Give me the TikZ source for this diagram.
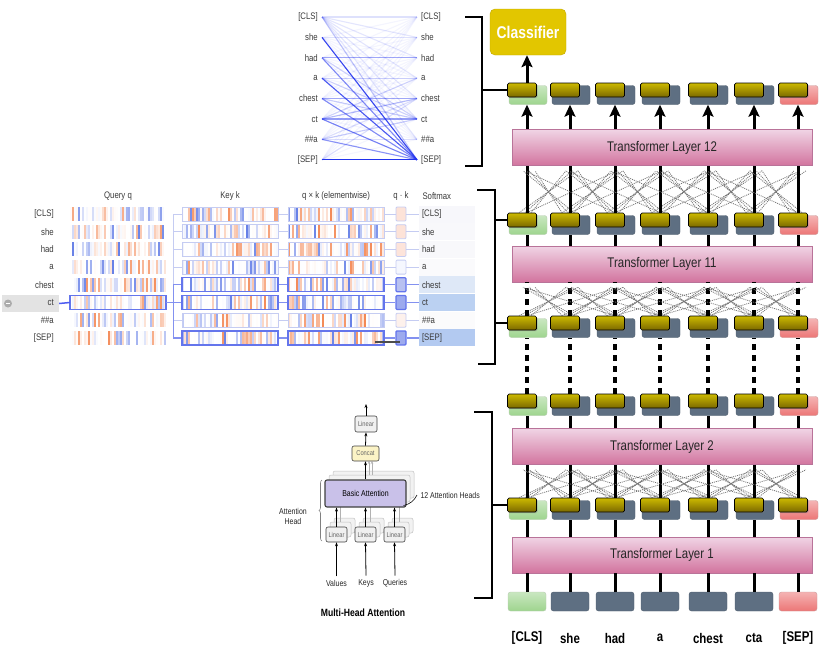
\documentclass[tikz,border=0pt]{standalone}
\usepackage{fontspec}
\setmainfont{Liberation Sans}
\newfontfamily\narrowfont[FakeStretch=0.82]{Liberation Sans}
\usetikzlibrary{positioning,arrows.meta,shadows,decorations.pathreplacing}

% colours
\definecolor{embtop}{HTML}{CDBA00}
\definecolor{embbot}{HTML}{7A6800}
\definecolor{slate}{HTML}{5E6F82}
\definecolor{clsgreen}{HTML}{9ED48E}
\definecolor{sepred}{HTML}{EC7676}
\definecolor{layertop}{HTML}{F0D4E5}
\definecolor{layerbot}{HTML}{D2749E}
\definecolor{layeredge}{HTML}{B97399}
\definecolor{gold}{HTML}{E2C600}
\definecolor{attblue}{HTML}{2233EE}
\definecolor{stripeblue}{HTML}{3F5FE0}
\definecolor{stripeorange}{HTML}{F06A2A}
\definecolor{barframe}{HTML}{C5CCF2}
\definecolor{barhot}{HTML}{6475EC}
\definecolor{lavender}{HTML}{C9C1E9}
\definecolor{paleyellow}{HTML}{FBF3C6}
\definecolor{txtgray}{HTML}{3A3A3A}

% a bar of coloured stripes: left x, centre y, seed
\newcommand\stripebar[3]{%
  \pgfmathsetseed{#3}%
  \foreach \kk in {0,...,47}{%
    \pgfmathsetmacro\stv{rnd*2-1}%
    \pgfmathsetmacro\sto{min(1,0.8*abs(\stv)^3)}%
    \pgfmathtruncatemacro\stp{\stv>0 ? 1 : 0}%
    \ifnum\stp=1 \def\stc{stripeorange}\else\def\stc{stripeblue}\fi
    \fill[\stc, fill opacity=\sto] ({#1+2*\kk},{#2-7}) rectangle ++(2,14);
  }%
}

\begin{document}
\begin{tikzpicture}[x=1pt,y=-1pt,
  layerbox/.style={draw=layeredge, line width=0.6pt, top color=layertop, bottom color=layerbot,
    minimum width=300pt, minimum height=36pt, inner sep=0pt,
    font=\narrowfont\fontsize{14}{16}\selectfont, text=black!85},
  tokbox/.style={rounded corners=2.5pt, minimum width=38pt, minimum height=19pt, inner sep=0pt},
  clsbox/.style={tokbox, draw=clsgreen!70!black!50, top color=clsgreen!55, bottom color=clsgreen},
  wordbox/.style={tokbox, draw=slate!85!black, fill=slate},
  sepbox/.style={tokbox, draw=sepred!70!black!60, top color=sepred!55, bottom color=sepred},
  embbox/.style={draw=black, line width=0.7pt, rounded corners=1.5pt, top color=embtop, bottom color=embbot,
    minimum width=29pt, minimum height=14pt, inner sep=0pt,
    drop shadow={shadow xshift=1pt, shadow yshift=-1pt, opacity=.4}},
  classbox/.style={draw=gold!85!black, fill=gold, rounded corners=5pt, minimum width=76pt,
    minimum height=46pt, inner sep=0pt, text=white, font=\narrowfont\bfseries\fontsize{17}{18}\selectfont},
  toklbl/.style={font=\narrowfont\bfseries\fontsize{14}{16}\selectfont},
  colline/.style={line width=3pt},
  dashline/.style={line width=3.5pt, dash pattern=on 6pt off 5pt},
  crossline/.style={black!55, line width=0.8pt, dash pattern=on 1pt off 1pt},
  bigarrow/.style={line width=3pt, -{Stealth[length=12pt,width=11pt,inset=2.5pt]}},
  brk/.style={line width=1.5pt},
  attlbl/.style={font=\narrowfont\fontsize{9.5}{11}\selectfont, text=txtgray, inner xsep=4pt, inner ysep=1pt},
  attline/.style={attblue, line width=1.1pt},
  rowlbl/.style={font=\narrowfont\fontsize{9.5}{11}\selectfont, text=txtgray, anchor=east, inner sep=0pt},
  headlbl/.style={font=\narrowfont\fontsize{9.5}{11}\selectfont, text=txtgray},
  barnode/.style={minimum width=96pt, minimum height=14pt, inner sep=0pt},
  framelo/.style={draw=barframe, line width=0.8pt},
  framehi/.style={draw=barhot, line width=1.3pt},
  dotbox/.style={minimum width=10pt, minimum height=14pt, inner sep=0pt, rounded corners=1pt},
  softbox/.style={minimum height=17pt, text width=50pt, inner xsep=3pt, inner ysep=0pt, align=left,
    font=\narrowfont\fontsize{9.5}{11}\selectfont, text=txtgray},
  linklo/.style={barframe, line width=0.9pt},
  linkhi/.style={barhot!80, line width=1.3pt},
  mhbox/.style={draw=black!75, rounded corners=2pt, inner sep=0pt, line width=0.6pt,
    font=\narrowfont\fontsize{7}{8}\selectfont, text=black!60},
  ghost/.style={draw=gray!50, fill=gray!10, rounded corners=2pt, line width=0.5pt},
  mharrow/.style={line width=0.8pt, -{Stealth[length=4pt,width=3pt]}},
  mhlbl/.style={font=\narrowfont\fontsize{8.5}{10}\selectfont, text=black!85}]

  \useasboundingbox (0,0) rectangle (822,654);

  % attention lines
  \foreach \i/\w in {1/{[CLS]},2/she,3/had,4/a,5/chest,6/ct,7/{\#\#a},8/{[SEP]}}{
    \pgfmathsetmacro\yy{17+20.4*(\i-1)}
    \node[attlbl, anchor=east] (la\i) at (322,\yy) {\w};
    \node[attlbl, anchor=west] (ra\i) at (417,\yy) {\w};
  }
  \foreach \i in {1,...,8}
    \foreach \j in {1,...,8}
      \draw[attline, draw opacity=0.05] (la\i.east) -- (ra\j.west);
  \foreach \i/\j/\o in {1/8/.25,2/8/.9,3/8/.55,4/8/.8,5/8/.55,6/8/.6,7/8/.5,8/8/1,
      3/3/.4,5/5/.4,6/6/.45,4/4/.2,1/1/.1,2/2/.1,7/7/.12,6/5/.3,6/4/.18,5/6/.22,7/6/.22,
      1/2/.08,1/3/.08,1/4/.08,1/5/.08,1/6/.08,1/7/.08,3/6/.18,4/6/.18,8/5/.12,7/5/.12}
    \draw[attline, draw opacity=\o] (la\i.east) -- (ra\j.west);

  % query / key panel
  \node[headlbl] (hq) at (118,196) {Query q};
  \node[headlbl] (hk) at (230,196) {Key k};
  \node[headlbl] (hx) at (336,196) {q × k (elementwise)};
  \node[headlbl] (hd) at (401,196) {q · k};
  \node[headlbl, anchor=west] (hs) at (419,196) {Softmax};
  \node[fill=gray!22, minimum width=57pt, minimum height=17pt, inner sep=0pt] (ctbg) at (30.5,303.5) {};
  \node[circle, fill=gray!65, minimum size=8pt, inner sep=0pt] (minus) at (8,303.5) {};
  \draw[white, line width=1pt] ([xshift=-2.2pt]minus.center) -- ([xshift=2.2pt]minus.center);
  \foreach \i/\w/\sm/\dc/\fs in {1/{[CLS]}/F7F7FB/FDE3D8/framelo,2/she/F8F8FB/FDE3D8/framelo,
      3/had/F8F8FB/FDE4DA/framelo,4/a/FAFAFC/F5F7FE/framelo,5/chest/DEE8F7/B8C1F1/framehi,
      6/ct/BBD1F2/9DAAEE/framehi,7/{\#\#a}/FBFBFC/FDF1EC/framelo,8/{[SEP]}/B3CAF1/9DAAEE/framehi}{
    \pgfmathsetmacro\yy{214+17.7*(\i-1)}
    \definecolor{smc}{HTML}{\sm}
    \definecolor{dcc}{HTML}{\dc}
    \node[rowlbl] (ml\i) at (54,\yy) {\w};
    \stripebar{70}{\yy}{\i1}
    \node[barnode] (q\i) at (118,\yy) {};
    \stripebar{182}{\yy}{\i2}
    \node[barnode,\fs] (k\i) at (230,\yy) {};
    \stripebar{288}{\yy}{\i3}
    \node[barnode,\fs] (x\i) at (336,\yy) {};
    \node[dotbox,fill=dcc,\fs] (d\i) at (401,\yy) {};
    \node[softbox,fill=smc] (s\i) at (447,\yy) {\w};
  }
  \node[barnode, draw=barhot, line width=1.5pt] at (q6) {};
  \draw[attblue!80, line width=1.5pt] (ctbg.east) -- (q6.west);
  \foreach \i/\ls in {1/linklo,2/linklo,3/linklo,4/linklo,7/linklo,5/linkhi,6/linkhi,8/linkhi}{
    \draw[\ls] (q6.east) -- ++(7,0) |- (k\i.west);
    \draw[\ls] (k\i.east) -- (x\i.west);
    \draw[\ls] (x\i.east) -- (d\i.west);
    \draw[\ls] (d\i.east) -- (s\i.west);
  }
  \draw[black!70, line width=1.2pt] (375,342) -- (400,342);

  % multi-head attention
  \foreach \dx/\dy in {8/-9,4/-5}{
    \draw[ghost] (325+\dx,480+\dy) rectangle ++(81,27);
    \foreach \xx in {326,355,384}
      \draw[ghost] (\xx+\dx,527+\dy) rectangle ++(21,15);
  }
  \foreach \xx in {340,370,399}
    \draw[gray!60, line width=0.6pt] (\xx,522) -- (\xx,502);
  \foreach \xx in {369,372}
    \draw[gray!60, line width=0.6pt, -{Stealth[length=3pt,width=2.5pt]}] (\xx,475) -- (\xx,461);
  \node[mhbox, fill=lavender, line width=1.1pt, minimum width=81pt, minimum height=27pt,
    font=\narrowfont\fontsize{8.5}{10}\selectfont, text=black] (ba) at (365.5,493.5) {Basic Attention};
  \node[mhbox, fill=gray!12, minimum width=21pt, minimum height=15pt] (lv) at (336.5,534.5) {Linear};
  \node[mhbox, fill=gray!12, minimum width=21pt, minimum height=15pt] (lk) at (365.5,534.5) {Linear};
  \node[mhbox, fill=gray!12, minimum width=21pt, minimum height=15pt] (lq) at (394.5,534.5) {Linear};
  \node[mhbox, fill=paleyellow, minimum width=27pt, minimum height=15pt] (cc) at (365.5,453.5) {Concat};
  \node[mhbox, fill=gray!12, minimum width=22pt, minimum height=16pt] (lo) at (366,424) {Linear};
  \coordinate (mhout) at (366,404);
  \draw[mharrow] (lo.north) -- (mhout);
  \draw[mharrow] (cc.north) -- (lo.south);
  \draw[mharrow] (ba.north) -- (cc.south);
  \foreach \n in {lv,lk,lq}
    \draw[mharrow] (\n.north) -- (\n.north |- ba.south);
  \node[mhlbl] (vin) at (336.5,583) {Values};
  \node[mhlbl] (kin) at (366,583) {Keys};
  \node[mhlbl] (qin) at (395,583) {Queries};
  \foreach \a/\b in {vin/lv,kin/lk,qin/lq}
    \draw[mharrow] (\a.north) -- (\b.south);
  \node[mhlbl, anchor=west] (h12) at (417,495) {12 Attention Heads};
  \draw[line width=0.6pt] (h12.west) to[bend left=25] ([xshift=-3pt,yshift=2pt]ba.south east);
  \node[mhlbl, align=center] (ahd) at (293,516) {Attention\\Head};
  \draw[gray, line width=0.6pt, decorate, decoration={brace, amplitude=3pt}] (322,541) -- (322,480);
  \node[font=\narrowfont\bfseries\fontsize{10.5}{12}\selectfont] (mht) at (363,613) {Multi-Head Attention};

  % BERT stack
  \foreach \cc/\xx in {1/527,2/570,3/615,4/660,5/708,6/754,7/798}
    \coordinate (col\cc) at (\xx,0);
  \node[layerbox] (L1) at (662,555) {Transformer Layer 1};
  \node[layerbox] (L2) at (662,446.5) {Transformer Layer 2};
  \node[layerbox] (L11) at (662,264) {Transformer Layer 11};
  \node[layerbox] (L12) at (662,147.5) {Transformer Layer 12};
  \foreach \cc/\xx/\st/\w in {1/527/clsbox/{[CLS]},2/570/wordbox/she,3/615/wordbox/had,4/660/wordbox/a,
      5/708/wordbox/chest,6/754/wordbox/cta,7/798/sepbox/{[SEP]}}{
    \node[\st] (t\cc) at (\xx,601.5) {};
    \node[toklbl] (w\cc) at (\xx,638) {\w};
    \foreach \rr/\yy in {1/498,2/394,10/316,11/213,12/83}{
      \node[\st] (b\rr-\cc) at (\xx+1,\yy+12) {};
      \node[embbox] (e\rr-\cc) at (\xx-5,\yy+7) {};
    }
  }
  \node[classbox] (clf) at (528,32) {Classifier};

  % connections between layers
  \foreach \i in {1,...,7}{
    \foreach \j in {1,...,7}{
      \pgfmathtruncatemacro\dj{abs(\i-\j)}
      \ifnum\dj=1
        \foreach \o in {-8,-2,4}{
          \draw[crossline] ([xshift=\o pt]col\i |- e1-\i.north) -- ([xshift=-\o pt,yshift=-5pt]col\j |- L2.south);
          \draw[crossline] ([xshift=\o pt]col\i |- e10-\i.north) -- ([xshift=-\o pt,yshift=-5pt]col\j |- L11.south);
          \draw[crossline] ([xshift=\o pt]col\i |- e11-\i.north) -- ([xshift=-\o pt,yshift=-5pt]col\j |- L12.south);
        }
      \fi
      \ifnum\dj=2
        \draw[crossline] (col\i |- e1-\i.north) -- ([yshift=-6pt]col\j |- L2.south);
        \draw[crossline] (col\i |- e10-\i.north) -- ([yshift=-6pt]col\j |- L11.south);
        \draw[crossline] (col\i |- e11-\i.north) -- ([yshift=-6pt]col\j |- L12.south);
      \fi
    }
    \draw[colline] (col\i |- t\i.north) -- (col\i |- L1.south);
    \draw[colline] (col\i |- L1.north) -- (col\i |- b1-\i.south);
    \draw[colline] (col\i |- e1-\i.north) -- (col\i |- L2.south);
    \draw[colline] (col\i |- L2.north) -- (col\i |- b2-\i.south);
    \draw[dashline] (col\i |- e2-\i.north) -- (col\i |- b10-\i.south);
    \draw[dashline] (col\i |- e10-\i.north) -- (col\i |- L11.south);
    \draw[colline] (col\i |- L11.north) -- (col\i |- b11-\i.south);
    \draw[colline] (col\i |- e11-\i.north) -- (col\i |- L12.south);
    \draw[bigarrow] (col\i |- L12.north) -- (col\i |- b12-\i.south);
  }
  \draw[bigarrow] (col1 |- e12-1.north) -- (col1 |- clf.south);

  % brackets
  \draw[brk] (465,17) -- (482,17) -- (482,166) -- (465,166);
  \draw[brk] (482,90) -- (e12-1.west);
  \draw[brk] (477,190) -- (495,190) -- (495,364) -- (478,364);
  \draw[brk] (495,220) -- (e11-1.west);
  \draw[brk] (495,323) -- (e10-1.west);
  \draw[brk] (474,412) -- (492,412) -- (492,598) -- (474,598);
  \draw[brk] (492,505) -- (e1-1.west);
\end{tikzpicture}
\end{document}
